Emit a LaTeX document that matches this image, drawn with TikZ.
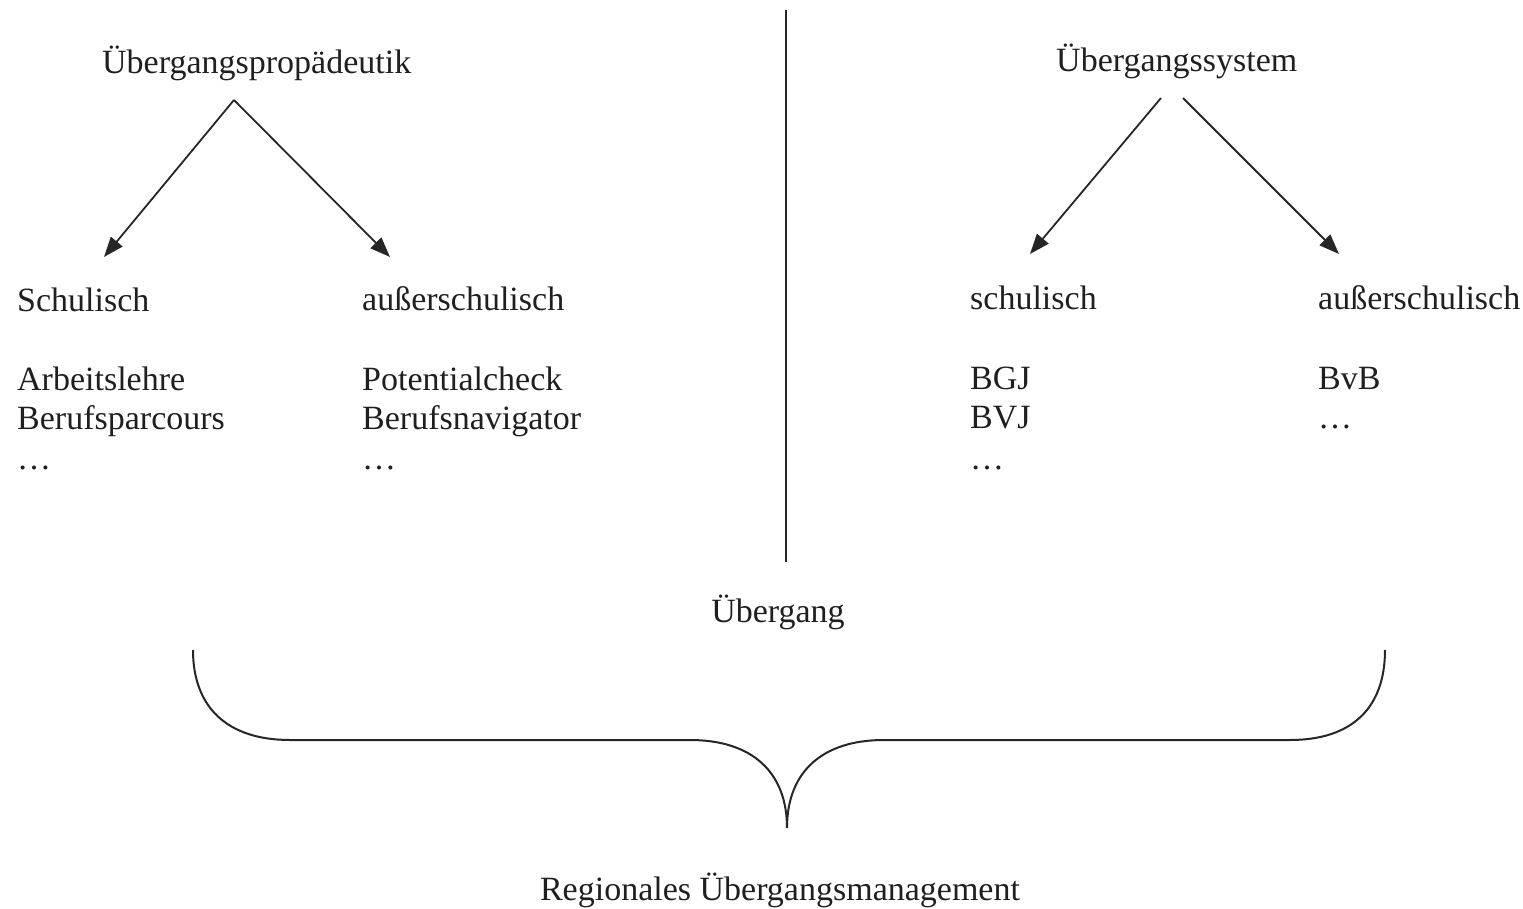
\documentclass[tikz,border=0pt]{standalone}
\usepackage{fontspec}
\setmainfont{Liberation Serif}
\usetikzlibrary{arrows.meta}
\begin{document}
\begin{tikzpicture}[x=1pt,y=-1pt,
  lbl/.style={anchor=base west,inner sep=0pt,font=\fontsize{34}{40}\selectfont,text=black!88},
  arr/.style={line width=1.8pt,draw=black!85,-{Triangle[length=20pt,width=15pt,fill=black!85]}},
  ln/.style={line width=2pt,draw=black!85}]
\useasboundingbox (0,0) rectangle (1523,909);
% left tree
\node[lbl] (prop) at (102,74) {Übergangspropädeutik};
\node[lbl] (lschul) at (17,312) {Schulisch};
\node[lbl] (lausser) at (362,311) {außerschulisch};
\node[lbl] (l1) at (17,390) {Arbeitslehre};
\node[lbl] (l2) at (17,429) {Berufsparcours};
\node[lbl] (l3) at (17,469) {\dots};
\node[lbl] (r1) at (362,390) {Potentialcheck};
\node[lbl] (r2) at (362,429) {Berufsnavigator};
\node[lbl] (r3) at (362,469) {\dots};
\coordinate (pa) at (234,100);
\coordinate (pl) at (104,257);
\coordinate (pr) at (390,257);
\draw[arr] (pa) -- (pl);
\draw[arr] (pa) -- (pr);
% divider
\coordinate (vt) at (786,10);
\coordinate (vb) at (786,562);
\draw[ln] (vt) -- (vb);
% right tree
\node[lbl] (sys) at (1056,72) {Übergangssystem};
\node[lbl] (rschul) at (970,309) {schulisch};
\node[lbl] (rausser) at (1318,309) {außerschulisch};
\node[lbl] (b1) at (970,389) {BGJ};
\node[lbl] (b2) at (970,428) {BVJ};
\node[lbl] (b3) at (970,469) {\dots};
\node[lbl] (c1) at (1318,389) {BvB};
\node[lbl] (c2) at (1318,428) {\dots};
\coordinate (sa1) at (1161,98);
\coordinate (sa2) at (1183,98);
\coordinate (sl) at (1030,254);
\coordinate (sr) at (1339,254);
\draw[arr] (sa1) -- (sl);
\draw[arr] (sa2) -- (sr);
% bottom
\node[lbl,anchor=base] (ueb) at (778,622) {Übergang};
\coordinate (bl) at (193,650);
\coordinate (bt) at (787,828);
\coordinate (br) at (1385,650);
\draw[ln] (bl) .. controls (193,708) and (228,740) .. (290,740) -- (690,740)
  .. controls (752,740) and (787,772) .. (bt)
  .. controls (787,772) and (822,740) .. (884,740) -- (1290,740)
  .. controls (1352,740) and (1385,708) .. (br);
\node[lbl,anchor=base] (rum) at (780,900) {Regionales Übergangsmanagement};
\end{tikzpicture}
\end{document}
